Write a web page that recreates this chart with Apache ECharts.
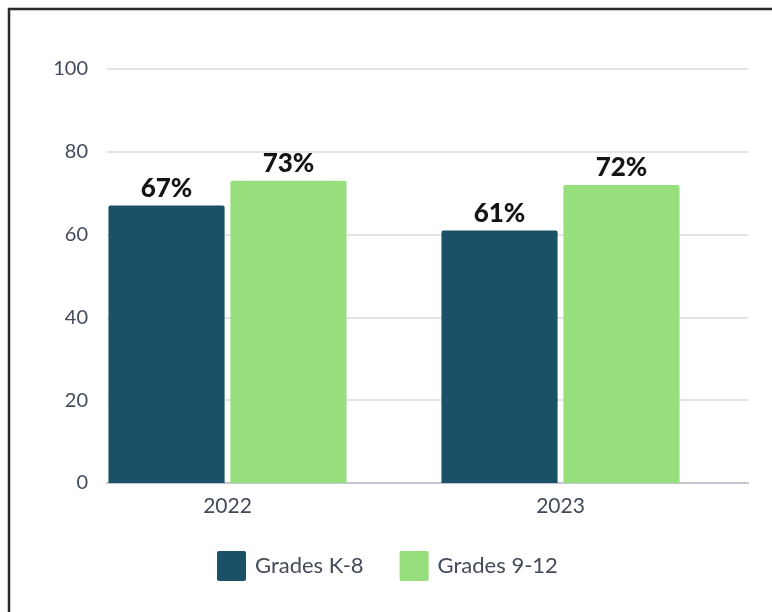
<!DOCTYPE html>
<html>
<head>
<meta charset="utf-8">
<script src="https://cdn.jsdelivr.net/npm/echarts@6/dist/echarts.min.js"></script>
<style>
  html, body { margin: 0; padding: 0; background: #fff; }
  #chart { width: 772px; height: 612px; }
</style>
</head>
<body>
<div id="chart"></div>
<script>
// Share of students by school year and grade band
const years = ['2022', '2023'];
const gradesK8 = [67, 61];
const grades912 = [73, 72];
const seriesNames = ['Grades K-8', 'Grades 9-12'];
const yTicks = { min: 0, max: 100, interval: 20 };

const FONT = 'Lato, "Open Sans", sans-serif';
const LABEL_GREY = '#434a5a';

const chart = echarts.init(document.getElementById('chart'));

const barLabel = {
  show: true,
  position: 'top',
  distance: 4,
  formatter: p => p.value + '%',
  fontFamily: FONT,
  fontWeight: 900,
  fontSize: 26,
  color: '#141414'
};

chart.setOption({
  animation: false,
  backgroundColor: '#ffffff',
  graphic: [{
    type: 'rect',
    shape: { x: 9, y: 9, width: 900, height: 900 },
    style: { fill: 'none', stroke: '#2a2a2a', lineWidth: 2.5 },
    silent: true
  }],
  legend: {
    data: seriesNames,
    left: 212,
    top: 546,
    itemWidth: 29,
    itemHeight: 30,
    itemGap: 36,
    icon: 'path://M2,0 L27,0 Q29,0 29,2 L29,28 Q29,30 27,30 L2,30 Q0,30 0,28 L0,2 Q0,0 2,0 Z',
    textStyle: {
      fontFamily: FONT,
      fontSize: 22,
      color: LABEL_GREY,
      padding: [0, 0, 0, 4]
    }
  },
  grid: [
    // value scale, gridlines and baseline
    { left: 107, right: 24, top: 69, bottom: 129 },
    // bars and year labels
    { left: 61, right: 45, top: 69, bottom: 129 }
  ],
  xAxis: [
    {
      gridIndex: 0,
      type: 'category',
      data: years,
      axisLine: { show: true, lineStyle: { color: '#c6c6d2', width: 2 } },
      axisTick: { show: false },
      axisLabel: { show: false }
    },
    {
      gridIndex: 1,
      type: 'category',
      data: years,
      axisLine: { show: false },
      axisTick: { show: false },
      axisLabel: {
        margin: 13,
        fontFamily: FONT,
        fontSize: 21,
        color: LABEL_GREY
      }
    }
  ],
  yAxis: [
    {
      gridIndex: 0,
      type: 'value',
      min: yTicks.min,
      max: yTicks.max,
      interval: yTicks.interval,
      axisLine: { show: false },
      axisTick: { show: false },
      splitLine: { lineStyle: { color: '#e4e4e6', width: 2 } },
      axisLabel: {
        margin: 19,
        fontFamily: FONT,
        fontSize: 20,
        color: LABEL_GREY
      }
    },
    {
      gridIndex: 1,
      type: 'value',
      min: yTicks.min,
      max: yTicks.max,
      interval: yTicks.interval,
      show: false,
      splitLine: { show: false }
    }
  ],
  series: [
    {
      name: seriesNames[0],
      type: 'bar',
      xAxisIndex: 1,
      yAxisIndex: 1,
      data: gradesK8,
      barGap: '5%',
      barCategoryGap: '28.5%',
      itemStyle: { color: '#1b5167', borderRadius: [2, 2, 0, 0] },
      label: barLabel
    },
    {
      name: seriesNames[1],
      type: 'bar',
      xAxisIndex: 1,
      yAxisIndex: 1,
      data: grades912,
      barGap: '5%',
      barCategoryGap: '28.5%',
      itemStyle: { color: '#97de7c', borderRadius: [2, 2, 0, 0] },
      label: barLabel
    }
  ]
});
</script>
</body>
</html>
